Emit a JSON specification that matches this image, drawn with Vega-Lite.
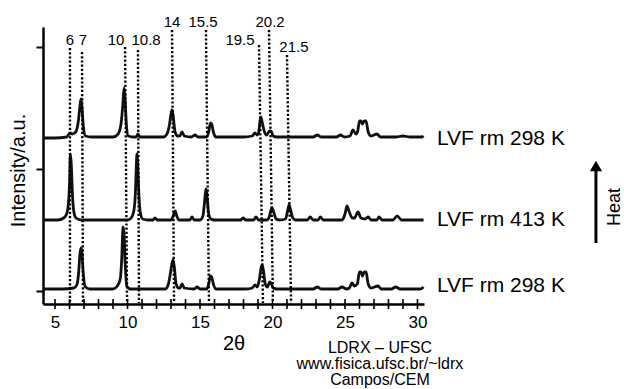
{
  "$schema": "https://vega.github.io/schema/vega-lite/v6.json",
  "autosize": "none",
  "width": 381,
  "height": 277,
  "padding": {"left": 43, "top": 27, "right": 200, "bottom": 85},
  "background": "white",
  "config": {"font": "Liberation Sans", "view": {"stroke": null}, "axis": {"labelOverlap": false}, "text": {"font": "Liberation Sans", "color": "black"}},
  "datasets": {
    "traces": [
      {"s":"a","x":4.17,"y":166},{"s":"a","x":5.0,"y":166},{"s":"a","x":5.8,"y":167},{"s":"a","x":5.92,"y":169},{"s":"a","x":6.03,"y":171},{"s":"a","x":6.18,"y":170},{"s":"a","x":6.42,"y":172},{"s":"a","x":6.6,"y":182},{"s":"a","x":6.72,"y":198},{"s":"a","x":6.79,"y":205},{"s":"a","x":6.86,"y":196},{"s":"a","x":6.95,"y":178},{"s":"a","x":7.1,"y":168},{"s":"a","x":7.5,"y":167},{"s":"a","x":9.0,"y":167},{"s":"a","x":9.35,"y":170},{"s":"a","x":9.55,"y":180},{"s":"a","x":9.68,"y":200},{"s":"a","x":9.76,"y":216},{"s":"a","x":9.83,"y":205},{"s":"a","x":9.92,"y":180},{"s":"a","x":10.05,"y":168},{"s":"a","x":10.4,"y":167},{"s":"a","x":10.6,"y":167},{"s":"a","x":10.72,"y":170},{"s":"a","x":10.85,"y":167},{"s":"a","x":12.5,"y":167},{"s":"a","x":12.75,"y":171},{"s":"a","x":12.9,"y":180},{"s":"a","x":13.0,"y":190},{"s":"a","x":13.07,"y":194},{"s":"a","x":13.15,"y":188},{"s":"a","x":13.28,"y":172},{"s":"a","x":13.45,"y":168},{"s":"a","x":13.6,"y":168},{"s":"a","x":13.76,"y":172},{"s":"a","x":13.92,"y":168},{"s":"a","x":14.4,"y":167},{"s":"a","x":14.66,"y":169},{"s":"a","x":14.85,"y":167},{"s":"a","x":15.45,"y":167},{"s":"a","x":15.6,"y":172},{"s":"a","x":15.72,"y":181},{"s":"a","x":15.8,"y":180},{"s":"a","x":15.92,"y":172},{"s":"a","x":16.1,"y":167},{"s":"a","x":18.0,"y":167},{"s":"a","x":18.6,"y":168},{"s":"a","x":18.79,"y":171},{"s":"a","x":18.95,"y":169},{"s":"a","x":19.05,"y":172},{"s":"a","x":19.14,"y":183},{"s":"a","x":19.2,"y":187},{"s":"a","x":19.3,"y":181},{"s":"a","x":19.45,"y":172},{"s":"a","x":19.6,"y":169},{"s":"a","x":19.8,"y":173},{"s":"a","x":19.9,"y":173},{"s":"a","x":20.05,"y":168},{"s":"a","x":20.3,"y":167},{"s":"a","x":22.8,"y":167},{"s":"a","x":23.1,"y":169},{"s":"a","x":23.35,"y":167},{"s":"a","x":24.4,"y":167},{"s":"a","x":24.7,"y":169},{"s":"a","x":24.95,"y":167},{"s":"a","x":25.35,"y":168},{"s":"a","x":25.55,"y":174},{"s":"a","x":25.75,"y":170},{"s":"a","x":25.88,"y":173},{"s":"a","x":26.0,"y":183},{"s":"a","x":26.1,"y":183},{"s":"a","x":26.2,"y":180},{"s":"a","x":26.33,"y":183},{"s":"a","x":26.45,"y":183},{"s":"a","x":26.6,"y":172},{"s":"a","x":26.8,"y":168},{"s":"a","x":27.2,"y":170},{"s":"a","x":27.45,"y":167},{"s":"a","x":28.5,"y":167},{"s":"a","x":29.0,"y":168},{"s":"a","x":29.5,"y":167},{"s":"a","x":30.3,"y":167},{"s":"a","x":30.42,"y":168},
      {"s":"b","x":4.17,"y":84},{"s":"b","x":5.2,"y":84},{"s":"b","x":5.6,"y":86},{"s":"b","x":5.8,"y":90},{"s":"b","x":5.92,"y":100},{"s":"b","x":6.0,"y":120},{"s":"b","x":6.06,"y":150},{"s":"b","x":6.12,"y":140},{"s":"b","x":6.2,"y":110},{"s":"b","x":6.3,"y":92},{"s":"b","x":6.45,"y":86},{"s":"b","x":6.8,"y":84},{"s":"b","x":10.0,"y":84},{"s":"b","x":10.25,"y":86},{"s":"b","x":10.42,"y":92},{"s":"b","x":10.54,"y":110},{"s":"b","x":10.6,"y":135},{"s":"b","x":10.65,"y":150},{"s":"b","x":10.71,"y":135},{"s":"b","x":10.8,"y":105},{"s":"b","x":10.9,"y":90},{"s":"b","x":11.05,"y":85},{"s":"b","x":11.4,"y":84},{"s":"b","x":11.75,"y":84},{"s":"b","x":11.9,"y":86},{"s":"b","x":12.05,"y":84},{"s":"b","x":13.0,"y":84},{"s":"b","x":13.15,"y":88},{"s":"b","x":13.28,"y":93},{"s":"b","x":13.4,"y":88},{"s":"b","x":13.55,"y":84},{"s":"b","x":14.3,"y":84},{"s":"b","x":14.45,"y":87},{"s":"b","x":14.6,"y":84},{"s":"b","x":15.0,"y":84},{"s":"b","x":15.2,"y":88},{"s":"b","x":15.3,"y":100},{"s":"b","x":15.38,"y":112},{"s":"b","x":15.43,"y":115},{"s":"b","x":15.5,"y":105},{"s":"b","x":15.6,"y":90},{"s":"b","x":15.75,"y":85},{"s":"b","x":16.0,"y":84},{"s":"b","x":17.8,"y":84},{"s":"b","x":17.97,"y":86},{"s":"b","x":18.15,"y":84},{"s":"b","x":18.7,"y":84},{"s":"b","x":18.86,"y":87},{"s":"b","x":19.05,"y":84},{"s":"b","x":19.6,"y":84},{"s":"b","x":19.75,"y":86},{"s":"b","x":19.9,"y":94},{"s":"b","x":19.97,"y":96},{"s":"b","x":20.08,"y":92},{"s":"b","x":20.25,"y":85},{"s":"b","x":20.5,"y":84},{"s":"b","x":20.9,"y":85},{"s":"b","x":21.05,"y":94},{"s":"b","x":21.14,"y":99},{"s":"b","x":21.25,"y":94},{"s":"b","x":21.4,"y":86},{"s":"b","x":21.6,"y":84},{"s":"b","x":22.4,"y":84},{"s":"b","x":22.6,"y":87},{"s":"b","x":22.8,"y":84},{"s":"b","x":23.15,"y":84},{"s":"b","x":23.3,"y":87},{"s":"b","x":23.5,"y":84},{"s":"b","x":24.8,"y":84},{"s":"b","x":25.0,"y":90},{"s":"b","x":25.14,"y":98},{"s":"b","x":25.3,"y":92},{"s":"b","x":25.5,"y":86},{"s":"b","x":25.65,"y":86},{"s":"b","x":25.9,"y":92},{"s":"b","x":26.1,"y":86},{"s":"b","x":26.4,"y":85},{"s":"b","x":26.6,"y":87},{"s":"b","x":26.8,"y":84},{"s":"b","x":27.2,"y":84},{"s":"b","x":27.35,"y":87},{"s":"b","x":27.55,"y":84},{"s":"b","x":28.3,"y":84},{"s":"b","x":28.6,"y":88},{"s":"b","x":28.9,"y":84},{"s":"b","x":30.0,"y":84},{"s":"b","x":30.42,"y":84},
      {"s":"c","x":4.17,"y":15},{"s":"c","x":5.5,"y":15},{"s":"c","x":6.3,"y":16},{"s":"c","x":6.5,"y":19},{"s":"c","x":6.62,"y":30},{"s":"c","x":6.72,"y":50},{"s":"c","x":6.79,"y":56},{"s":"c","x":6.86,"y":50},{"s":"c","x":6.95,"y":30},{"s":"c","x":7.1,"y":17},{"s":"c","x":7.4,"y":15},{"s":"c","x":9.0,"y":15},{"s":"c","x":9.3,"y":18},{"s":"c","x":9.5,"y":25},{"s":"c","x":9.6,"y":45},{"s":"c","x":9.69,"y":77},{"s":"c","x":9.76,"y":70},{"s":"c","x":9.84,"y":40},{"s":"c","x":9.95,"y":18},{"s":"c","x":10.2,"y":15},{"s":"c","x":12.6,"y":15},{"s":"c","x":12.8,"y":19},{"s":"c","x":12.95,"y":30},{"s":"c","x":13.06,"y":40},{"s":"c","x":13.14,"y":44},{"s":"c","x":13.22,"y":38},{"s":"c","x":13.35,"y":20},{"s":"c","x":13.5,"y":16},{"s":"c","x":13.62,"y":16},{"s":"c","x":13.76,"y":20},{"s":"c","x":13.92,"y":16},{"s":"c","x":14.6,"y":15},{"s":"c","x":14.8,"y":17},{"s":"c","x":15.0,"y":15},{"s":"c","x":15.45,"y":15},{"s":"c","x":15.6,"y":20},{"s":"c","x":15.72,"y":28},{"s":"c","x":15.8,"y":27},{"s":"c","x":15.92,"y":20},{"s":"c","x":16.1,"y":15},{"s":"c","x":18.2,"y":15},{"s":"c","x":18.6,"y":16},{"s":"c","x":18.8,"y":19},{"s":"c","x":18.95,"y":17},{"s":"c","x":19.1,"y":25},{"s":"c","x":19.22,"y":37},{"s":"c","x":19.28,"y":39},{"s":"c","x":19.38,"y":33},{"s":"c","x":19.5,"y":20},{"s":"c","x":19.65,"y":17},{"s":"c","x":19.8,"y":22},{"s":"c","x":19.9,"y":21},{"s":"c","x":20.05,"y":16},{"s":"c","x":20.3,"y":15},{"s":"c","x":22.8,"y":15},{"s":"c","x":23.1,"y":17},{"s":"c","x":23.35,"y":15},{"s":"c","x":24.5,"y":15},{"s":"c","x":24.8,"y":17},{"s":"c","x":25.1,"y":15},{"s":"c","x":25.3,"y":16},{"s":"c","x":25.48,"y":21},{"s":"c","x":25.65,"y":18},{"s":"c","x":25.85,"y":20},{"s":"c","x":26.0,"y":32},{"s":"c","x":26.1,"y":32},{"s":"c","x":26.2,"y":28},{"s":"c","x":26.33,"y":32},{"s":"c","x":26.45,"y":32},{"s":"c","x":26.6,"y":20},{"s":"c","x":26.8,"y":16},{"s":"c","x":27.28,"y":18},{"s":"c","x":27.5,"y":15},{"s":"c","x":28.2,"y":15},{"s":"c","x":28.5,"y":17},{"s":"c","x":28.8,"y":15},{"s":"c","x":30.2,"y":15},{"s":"c","x":30.42,"y":17}
    ],
    "guides": [
      {"x":6.03,"x2":6.03,"y":256,"y2":1},
      {"x":6.86,"x2":6.93,"y":252,"y2":1},
      {"x":9.83,"x2":9.97,"y":257,"y2":1},
      {"x":10.72,"x2":10.79,"y":254,"y2":1},
      {"x":13.07,"x2":13.21,"y":274,"y2":1},
      {"x":15.41,"x2":15.62,"y":274,"y2":1},
      {"x":19.07,"x2":19.34,"y":259,"y2":1},
      {"x":19.76,"x2":20.03,"y":274,"y2":1},
      {"x":21.0,"x2":21.28,"y":249,"y2":1}
    ],
    "xticks": [
      {"x":5},{"x":6},{"x":7},{"x":8},{"x":9},{"x":10},{"x":11},{"x":12},{"x":13},{"x":14},{"x":15},{"x":16},{"x":17},{"x":18},{"x":19},{"x":20},{"x":21},{"x":22},{"x":23},{"x":24},{"x":25},{"x":26},{"x":27},{"x":28},{"x":29},{"x":30}
    ],
    "peaklabels": [
      {"t":"6","x":6.03,"y":259},
      {"t":"7","x":6.93,"y":259},
      {"t":"10","x":9.21,"y":259},
      {"t":"10.8","x":11.28,"y":259},
      {"t":"14","x":13.07,"y":277},
      {"t":"15.5","x":15.21,"y":277},
      {"t":"19.5","x":17.76,"y":259},
      {"t":"20.2","x":19.83,"y":277},
      {"t":"21.5","x":21.48,"y":252}
    ],
    "samples": [
      {"t":"LVF rm 298 K","x":31.34,"y":165},
      {"t":"LVF rm 413 K","x":31.34,"y":84},
      {"t":"LVF rm 298 K","x":31.34,"y":18}
    ],
    "arrow": [{"x":42.31,"y":61,"y2":133}],
    "arrowhead": [{"x":42.31,"y":138}],
    "heat": [{"t":"Heat","x":43.62,"y":97}],
    "credits": [
      {"t":"LDRX – UFSC","x":27.41,"y":-44},
      {"t":"www.fisica.ufsc.br/~ldrx","x":27.41,"y":-60},
      {"t":"Campos/CEM","x":27.41,"y":-76}
    ]
  },
  "layer": [
    {
      "data": {"name": "traces"},
      "mark": {"type": "line", "color": "#111111", "strokeWidth": 2.8, "interpolate": "monotone", "strokeJoin": "round"},
      "encoding": {
        "x": {"field": "x", "type": "quantitative", "scale": {"domain": [4.17, 30.45], "nice": false, "zero": false},
          "axis": {"title": "2θ", "values": [5, 10, 15, 20, 25, 30], "labelOverlap": false, "grid": false, "ticks": false,
            "labelFontSize": 17, "labelColor": "black", "labelPadding": 10, "labelFont": "Liberation Sans",
            "domainColor": "black", "domainWidth": 2.5,
            "titleFontSize": 20, "titleFontWeight": "normal", "titleColor": "black", "titleFont": "Liberation Sans",
            "titleBaseline": "middle", "titleY": 39}},
        "y": {"field": "y", "type": "quantitative", "scale": {"domain": [0, 277], "nice": false, "zero": false},
          "axis": {"title": "Intensity/a.u.", "values": [13, 135, 257], "labels": false, "grid": false,
            "tickColor": "black", "tickWidth": 2, "tickSize": 7,
            "domainColor": "black", "domainWidth": 2.5,
            "titleFontSize": 20, "titleFontWeight": "normal", "titleColor": "black", "titleFont": "Liberation Sans",
            "titleAngle": 270, "titleBaseline": "middle", "titleAlign": "center", "titleX": -25, "titleY": 143}},
        "detail": {"field": "s"}
      }
    },
    {
      "data": {"name": "guides"},
      "mark": {"type": "rule", "color": "black", "strokeWidth": 2.4, "strokeDash": [2.2, 2]},
      "encoding": {
        "x": {"field": "x", "type": "quantitative", "scale": {"domain": [4.17, 30.45], "nice": false, "zero": false}},
        "x2": {"field": "x2"},
        "y": {"field": "y", "type": "quantitative", "scale": {"domain": [0, 277], "nice": false, "zero": false}},
        "y2": {"field": "y2"}
      }
    },
    {
      "data": {"name": "xticks"},
      "mark": {"type": "tick", "color": "black", "thickness": 1.6, "size": 10, "orient": "vertical", "opacity": 1},
      "encoding": {
        "x": {"field": "x", "type": "quantitative"},
        "y": {"datum": 0, "type": "quantitative"}
      }
    },
    {
      "data": {"name": "peaklabels"},
      "mark": {"type": "text", "fontSize": 15, "align": "center", "baseline": "alphabetic", "color": "black"},
      "encoding": {
        "x": {"field": "x", "type": "quantitative"},
        "y": {"field": "y", "type": "quantitative"},
        "text": {"field": "t"}
      }
    },
    {
      "data": {"name": "samples"},
      "mark": {"type": "text", "fontSize": 21, "align": "left", "baseline": "middle", "color": "black"},
      "encoding": {
        "x": {"field": "x", "type": "quantitative"},
        "y": {"field": "y", "type": "quantitative"},
        "text": {"field": "t"}
      }
    },
    {
      "data": {"name": "arrow"},
      "mark": {"type": "rule", "color": "black", "strokeWidth": 3},
      "encoding": {
        "x": {"field": "x", "type": "quantitative"},
        "y": {"field": "y", "type": "quantitative"},
        "y2": {"field": "y2"}
      }
    },
    {
      "data": {"name": "arrowhead"},
      "mark": {"type": "point", "shape": "triangle-up", "filled": true, "color": "black", "opacity": 1, "size": 150},
      "encoding": {
        "x": {"field": "x", "type": "quantitative"},
        "y": {"field": "y", "type": "quantitative"}
      }
    },
    {
      "data": {"name": "heat"},
      "mark": {"type": "text", "fontSize": 18, "align": "center", "baseline": "middle", "angle": 270, "color": "black"},
      "encoding": {
        "x": {"field": "x", "type": "quantitative"},
        "y": {"field": "y", "type": "quantitative"},
        "text": {"field": "t"}
      }
    },
    {
      "data": {"name": "credits"},
      "mark": {"type": "text", "fontSize": 16, "align": "center", "baseline": "middle", "color": "black"},
      "encoding": {
        "x": {"field": "x", "type": "quantitative"},
        "y": {"field": "y", "type": "quantitative"},
        "text": {"field": "t"}
      }
    }
  ]
}
